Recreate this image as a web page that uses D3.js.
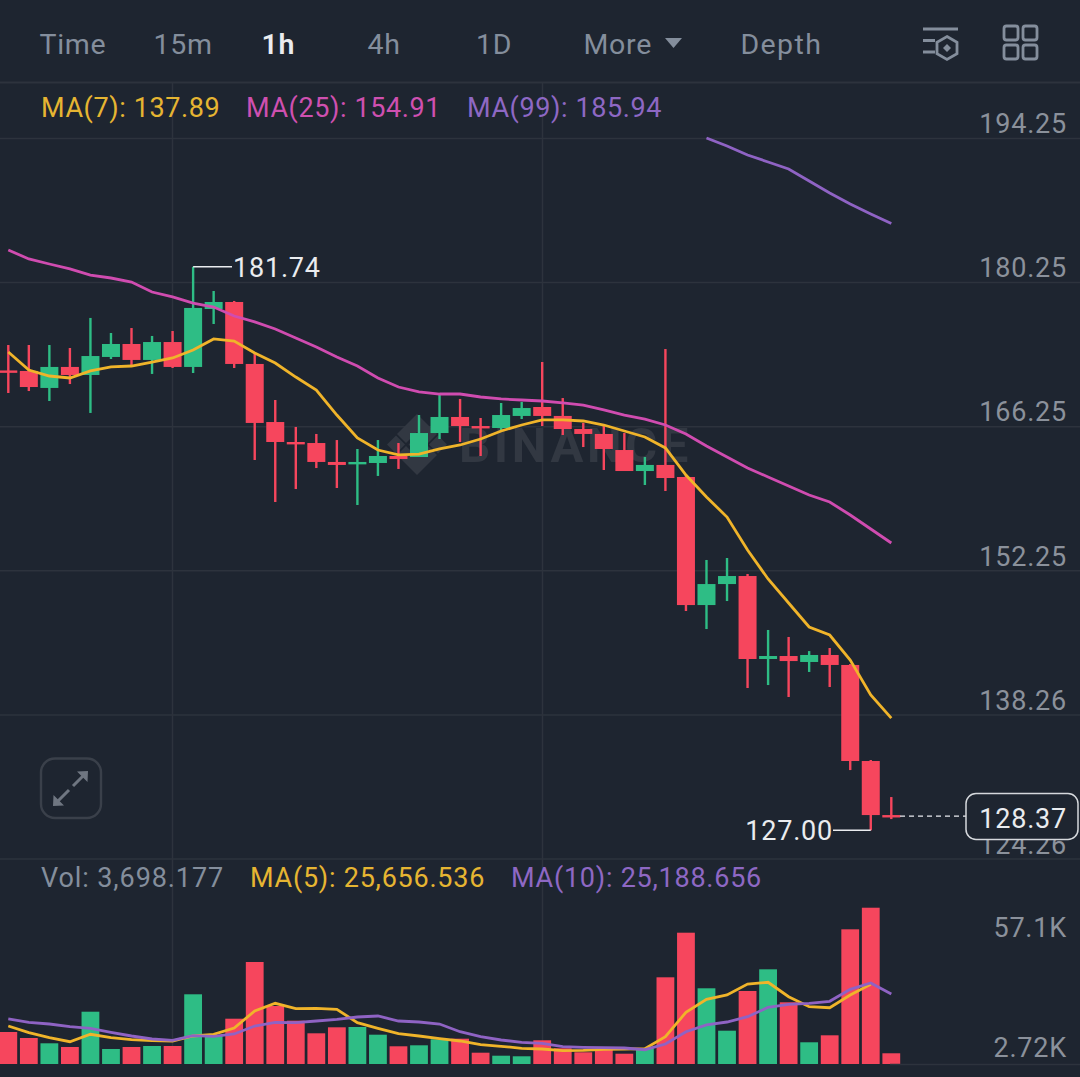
<!DOCTYPE html>
<html><head><meta charset="utf-8">
<script src="https://cdn.jsdelivr.net/npm/d3@7"></script>
<style>html,body{margin:0;padding:0;background:#1e2530;overflow:hidden}svg{display:block}text{font-family:Roboto,"Noto Sans",sans-serif}</style>
</head><body><svg id="c" width="1080" height="1077"></svg>
<script>
const tabs=["Time","15m","1h","4h","1D","More","Depth"];
const priceTicks=[194.25,180.25,166.25,152.25,138.26,124.26];
const volTickLabels=["57.1K","2.72K"];
const open=[171.67,171.62,169.97,172.01,171.23,172.98,174.24,172.69,174.43,172.01,177.64,178.32,172.30,166.66,164.72,164.62,162.78,162.58,162.68,163.36,163.26,165.59,167.15,166.27,166.08,167.25,168.12,167.25,165.98,165.50,163.94,161.90,162.49,161.32,148.88,150.92,151.70,143.64,143.93,143.35,144.03,143.06,133.73,128.48];
const close=[171.52,170.06,172.01,171.23,173.07,174.24,172.69,174.43,172.01,177.74,178.32,172.30,166.57,164.72,164.53,162.78,162.49,162.78,163.36,163.07,165.59,167.15,166.27,166.08,167.34,168.02,167.25,165.98,165.50,164.04,161.90,162.49,161.22,148.88,150.92,151.70,143.64,143.93,143.44,144.03,143.06,133.73,128.48,128.37];
const high=[174.14,174.14,174.14,173.85,176.77,175.31,175.79,175.02,175.50,181.74,179.39,178.42,173.37,168.80,166.18,165.50,164.91,164.04,164.91,164.62,167.34,169.29,168.90,167.05,168.51,168.61,172.49,168.99,166.57,166.27,165.59,163.26,173.75,161.51,153.26,153.45,151.90,146.46,145.78,144.41,144.71,143.15,133.83,130.23];
const low=[169.48,169.67,168.70,170.35,167.54,172.78,172.20,171.33,171.91,171.42,176.18,171.91,162.97,158.89,160.15,162.19,160.25,158.60,161.42,162.10,163.26,165.01,164.72,163.36,165.79,166.95,166.27,165.40,164.23,162.00,161.90,160.54,159.96,148.30,146.55,149.27,140.82,141.11,139.95,142.38,140.92,132.85,127.00,128.09];
const ma7=[173.46,171.71,171.13,170.94,171.62,172.01,172.10,172.49,172.88,173.66,174.73,174.53,173.37,172.39,171.03,169.77,167.34,165.11,163.94,163.46,163.55,164.04,164.43,165.01,165.79,166.37,166.86,166.86,166.76,166.37,165.79,165.21,164.14,161.51,159.38,157.43,154.23,151.41,149.08,146.75,145.97,143.54,140.14,137.89];
const ma25=[183.37,182.50,182.01,181.53,180.94,180.65,180.26,179.29,178.81,178.22,177.83,176.96,176.38,175.70,174.82,173.95,172.98,172.10,170.94,170.06,169.58,169.38,169.38,169.09,168.90,168.80,168.70,168.51,168.31,167.83,167.34,166.95,166.37,165.50,164.33,163.26,162.19,161.32,160.45,159.57,158.89,157.63,156.27,154.91];
const ma99=[194.25,193.48,192.60,191.92,191.24,190.08,188.91,187.84,186.87,185.94];
const ma99Start=34;
const volume=[11040,8970,7140,5870,18040,5180,5870,6210,6210,24050,9660,15630,35190,20010,14940,10590,12660,12770,10110,6110,6450,8520,8730,3900,2860,2660,8180,5420,4040,5070,3550,5420,29910,45300,26120,11490,25190,32670,21290,7490,9900,46470,53920,3698];
const volMa5=[13110,10800,9070,7690,10250,9070,8380,8040,7940,9660,10250,12420,18290,20940,19080,19220,18870,14250,12320,10450,9660,8730,7940,6660,6110,5420,5180,4590,4730,5070,5180,5280,9420,17840,22320,23810,27600,28190,23220,19770,19420,23810,27500];
const volMa10=[15530,14390,13800,12870,12320,10940,9660,8630,8180,9760,9560,10350,13110,14390,14250,14840,15420,16220,16560,14840,14490,13800,11140,9420,8280,7490,7140,5970,5760,5620,5520,4930,6900,11140,13460,14490,16320,19560,20600,20940,21630,25770,27950,24150];
const lastPrice=128.37, maxPrice=181.74, minPrice=127.00;
const legend=[["MA(7): 137.89","#e6b532",41],["MA(25): 154.91","#cf50b0",246],["MA(99): 185.94","#8e68c4",467]];
const volLegend=[["Vol: 3,698.177","#848e9c",41],["MA(5): 25,656.536","#e6b532",250],["MA(10): 25,188.656","#8e68c4",511]];

const UP="#2ebd85",DOWN="#f6465d",GRID="#2d333d",TXT="#848e9c",LAB="#8b919b",WHITE="#eaecef";
const FS=27, LS=0.8;
const svg=d3.select("#c");
svg.append("rect").attr("width",1080).attr("height",1077).attr("fill","#1e2530");
const x=d3.scaleLinear().domain([0,43]).range([8.3,891.3]);
const y=d3.scaleLinear().domain([194.25,124.26]).range([138,858.5]);
const v=d3.scaleLinear().domain([0,57100]).range([1064,898.5]);
const tabX=d3.scaleOrdinal().domain(tabs).range([39.5,153.5,261.5,367.5,476,583.5,740.5]);

// header
svg.selectAll(".tab").data(tabs).join("text").attr("x",d=>tabX(d)).attr("y",54)
  .attr("font-size",28.5).attr("letter-spacing",d=>d==="Depth"?1.4:0.7).attr("font-weight",d=>d==="1h"?600:400).attr("fill",d=>d==="1h"?WHITE:TXT).text(d=>d);
svg.append("path").attr("d","M665,38H682L673.5,48Z").attr("fill",TXT);
svg.append("line").attr("x1",0).attr("x2",1080).attr("y1",82.5).attr("y2",82.5).attr("stroke",GRID).attr("stroke-width",2);
// icons
const ic=svg.append("g").attr("fill","none").attr("stroke",TXT).attr("stroke-width",2.8);
ic.append("path").attr("d","M923,29H958M923,40.5H935M923,52H935");
ic.append("path").attr("d","M947,36.5L957,42.2V53.8L947,59.5L937,53.8V42.2Z");
ic.append("path").attr("d","M947,44L951,48L947,52L943,48Z").attr("fill",TXT).attr("stroke","none");
[[1004,26],[1023,26],[1004,45],[1023,45]].forEach(p=>ic.append("rect").attr("x",p[0]).attr("y",p[1]).attr("width",14).attr("height",14).attr("rx",2.5));

// grid
[172.5,542.5].forEach(g=>svg.append("line").attr("x1",g).attr("x2",g).attr("y1",83).attr("y2",1064).attr("stroke",GRID).attr("stroke-width",1.5));
const yAxis=d3.axisLeft(y).tickValues(priceTicks).tickSize(1080).tickPadding(-1067).tickFormat(d3.format(".2f"));
const ag=svg.append("g").attr("transform","translate(1080,0)").call(yAxis);
ag.select(".domain").remove();
ag.selectAll("line").attr("stroke",GRID).attr("stroke-width",1.5);
ag.selectAll("text").attr("y",-15).attr("dy","0.36em").attr("font-size",FS).attr("letter-spacing",LS).attr("fill",LAB);

// watermark
const wm=svg.append("g").attr("fill","#323842");
wm.append("text").attr("x",459).attr("y",462).attr("font-size",49).attr("font-weight",700).attr("letter-spacing",3.6).text("BINANCE");
wm.append("path").attr("d","M417,414L437,434L428,443L417,432L406,443L397,434ZM417,475L397,455L406,446L417,457L428,446L437,455ZM387,444.5L396,435.5L405,444.5L396,453.5ZM429,444.5L438,435.5L447,444.5L438,453.5ZM417,436L425.5,444.5L417,453L408.5,444.5Z");

// legends
svg.selectAll(".leg").data(legend).join("text").attr("x",d=>d[2]).attr("y",117).attr("font-size",FS).attr("letter-spacing",0.6).attr("fill",d=>d[1]).text(d=>d[0]);
svg.selectAll(".vleg").data(volLegend).join("text").attr("x",d=>d[2]).attr("y",887).attr("font-size",FS).attr("letter-spacing",d=>d[0].startsWith("Vol")?0.9:0.75).attr("fill",d=>d[1]).text(d=>d[0]);

// volume
const idx=d3.range(volume.length);
const isUp=i=>close[i]>=open[i];
svg.selectAll(".vb").data(idx).join("rect").attr("x",i=>x(i)-8.9).attr("width",17.8)
  .attr("y",i=>v(volume[i])).attr("height",i=>v(0)-v(volume[i])).attr("fill",i=>isUp(i)?UP:DOWN);
const vline=d3.line().x((d,i)=>x(i)).y(d=>v(d));
svg.append("path").attr("d",vline(volMa5)).attr("fill","none").attr("stroke","#f0b42a").attr("stroke-width",2.8);
svg.append("path").attr("d",vline(volMa10)).attr("fill","none").attr("stroke","#8f63c4").attr("stroke-width",2.8);
svg.append("line").attr("x1",890).attr("x2",1080).attr("y1",1064.5).attr("y2",1064.5).attr("stroke",GRID).attr("stroke-width",1.5);
const vt=d3.scalePoint().domain(volTickLabels).range([927,1047]);
svg.selectAll(".vt").data(volTickLabels).join("text").attr("x",1067).attr("y",d=>vt(d)).attr("dy","0.36em").attr("text-anchor","end").attr("font-size",FS).attr("letter-spacing",LS).attr("fill",LAB).text(d=>d);

// candles
const col=i=>isUp(i)?UP:DOWN;
svg.selectAll(".w").data(idx).join("line").attr("x1",i=>x(i)).attr("x2",i=>x(i)).attr("y1",i=>y(high[i])).attr("y2",i=>y(low[i])).attr("stroke",col).attr("stroke-width",2.4);
svg.selectAll(".b").data(idx).join("rect").attr("x",i=>x(i)-9).attr("width",18)
  .attr("y",i=>y(Math.max(open[i],close[i]))).attr("height",i=>Math.max(2.4,Math.abs(y(open[i])-y(close[i])))).attr("fill",col);

// price MAs
const pl=d3.line().x((d,i)=>x(i)).y(d=>y(d));
svg.append("path").attr("d",pl(ma25)).attr("fill","none").attr("stroke","#d04cb0").attr("stroke-width",2.8);
svg.append("path").attr("d",pl(ma7)).attr("fill","none").attr("stroke","#f0b42a").attr("stroke-width",2.8);
svg.append("path").attr("d",d3.line().x((d,i)=>x(i+ma99Start)).y(d=>y(d))(ma99)).attr("fill","none").attr("stroke","#8f63c4").attr("stroke-width",2.8);

// annotations
svg.append("path").attr("d",`M${x(9)},${y(maxPrice)}H232`).attr("fill","none").attr("stroke",WHITE).attr("stroke-width",1.5);
svg.append("text").attr("x",233).attr("y",y(maxPrice)).attr("dy","0.36em").attr("font-size",FS).attr("letter-spacing",LS).attr("fill",WHITE).text(maxPrice.toFixed(2));
svg.append("path").attr("d",`M${x(42)},${y(minPrice)}H833`).attr("fill","none").attr("stroke",WHITE).attr("stroke-width",1.5);
svg.append("text").attr("x",833).attr("y",y(minPrice)).attr("dy","0.36em").attr("text-anchor","end").attr("font-size",FS).attr("letter-spacing",LS).attr("fill",WHITE).text(minPrice.toFixed(2));
svg.append("line").attr("x1",900).attr("x2",966).attr("y1",y(lastPrice)).attr("y2",y(lastPrice)).attr("stroke",WHITE).attr("stroke-width",1.3).attr("stroke-dasharray","5 4");
svg.append("rect").attr("x",966).attr("y",793.5).attr("width",112).attr("height",46).attr("rx",10).attr("fill","#1e2530").attr("stroke","#d5d8dc").attr("stroke-width",1.5);
svg.append("text").attr("x",1067).attr("y",818).attr("dy","0.36em").attr("text-anchor","end").attr("font-size",FS).attr("letter-spacing",LS).attr("fill",WHITE).text(lastPrice.toFixed(2));

// expand button
const eb=svg.append("g").attr("fill","none").attr("stroke","#6f7681").attr("stroke-width",3);
eb.append("rect").attr("x",41).attr("y",758.5).attr("width",60).attr("height",59.5).attr("rx",14).attr("stroke","#3a404a").attr("stroke-width",2.4);
eb.append("path").attr("d","M57,802L69,790M84,775L73,786");
eb.append("path").attr("d","M53,806L53.5,795L64,805.5ZM88,771L77,771.5L87.5,782Z").attr("fill","#6f7681").attr("stroke","none");
</script></body></html>
